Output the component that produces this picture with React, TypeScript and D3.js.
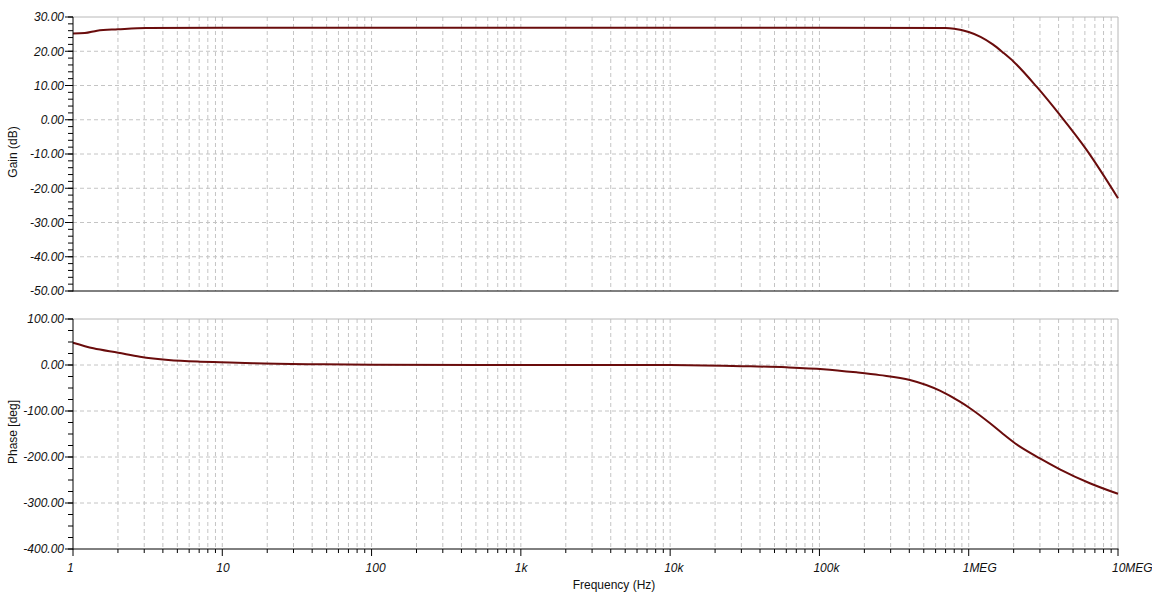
import { useEffect, useRef } from 'react';
import * as d3 from 'd3';

// frequency axis (log, Hz)
const decadeValues = [1, 10, 100, 1e3, 1e4, 1e5, 1e6, 1e7];
const decadeLabels = ['1', '10', '100', '1k', '10k', '100k', '1MEG', '10MEG'];

// gain panel
const gainTicks = [30, 20, 10, 0, -10, -20, -30, -40, -50];
const gainFreq = [1, 1.2, 1.45, 2, 3.1, 10, 1e3, 1e5, 7e5, 8e5, 1e6, 1.2e6, 1.45e6, 1.7e6, 2e6, 2.85e6, 4.08e6, 6.16e6, 1e7];
const gainDb = [25.2, 25.3, 26.0, 26.4, 26.8, 26.85, 26.85, 26.85, 26.8, 26.6, 25.6, 24.2, 22.0, 19.6, 16.95, 9.65, 1.4, -8.8, -22.9];

// phase panel
const phaseTicks = [100, 0, -100, -200, -300, -400];
const phaseFreq = [1, 1.37, 2.01, 2.81, 4.35, 7.1, 9.66, 16.1, 47.5, 100, 1e3, 1e4, 3e4, 6e4, 1.06e5, 1.77e5, 2.54e5, 4.04e5, 6.41e5, 8.73e5, 1.02e6, 1.39e6, 1.7e6, 2.04e6, 3e6, 4.08e6, 6.48e6, 1e7];
const phaseDeg = [48.5, 36.3, 26.7, 18, 10.9, 7.2, 5.9, 3.7, 1.5, 0.5, 0.2, 0, -2.5, -5, -9, -16, -22, -32.6, -55.8, -79.8, -94, -126.7, -150, -170, -203, -226.7, -257, -280];

const W = 1152;
const H = 603;
const FONT = '"Liberation Sans", Arial, sans-serif';

export default function App() {
  const svgRef = useRef<SVGSVGElement>(null);

  useEffect(() => {
    if (!svgRef.current) return;
    const svg = d3.select(svgRef.current);
    svg.selectAll('*').remove();

    const left = 73, right = 1118;
    const x = d3.scaleLog().domain([1, 1e7]).range([left, right]);

    const minorFreqs: number[] = [];
    decadeValues.slice(0, -1).forEach(d => {
      for (let m = 2; m <= 9; m++) minorFreqs.push(d * m);
    });
    const gridFreqs = minorFreqs.concat(decadeValues.slice(1, -1));

    const drawPanel = (
      top: number, bottom: number, ticks: number[], minorSteps: number,
      freqs: number[], values: number[], title: string, bottomAxis: boolean
    ) => {
      const y = d3.scaleLinear()
        .domain([ticks[ticks.length - 1], ticks[0]])
        .range([bottom, top]);
      const g = svg.append('g');

      // grid
      g.selectAll('.vgrid').data(gridFreqs).enter().append('line')
        .attr('x1', d => x(d)).attr('x2', d => x(d))
        .attr('y1', top).attr('y2', bottom)
        .attr('stroke', '#c4c4c4').attr('stroke-dasharray', '4,3');
      g.selectAll('.hgrid').data(ticks.slice(1, -1)).enter().append('line')
        .attr('x1', left).attr('x2', right)
        .attr('y1', d => y(d)).attr('y2', d => y(d))
        .attr('stroke', '#c4c4c4').attr('stroke-dasharray', '4,3');

      // frame: top + right gray, left + bottom black
      g.append('line').attr('x1', left).attr('x2', right).attr('y1', top).attr('y2', top)
        .attr('stroke', '#b8b8b8');
      g.append('line').attr('x1', right).attr('x2', right).attr('y1', top).attr('y2', bottom)
        .attr('stroke', '#b8b8b8');

      // curve
      const pts = freqs.map((f, i) => [f, values[i]] as [number, number]);
      const line = d3.line<[number, number]>()
        .x(d => x(d[0]))
        .y(d => y(d[1]))
        .curve(d3.curveMonotoneX);
      g.append('path').datum(pts)
        .attr('fill', 'none')
        .attr('stroke', '#6a0c0c')
        .attr('stroke-width', 2)
        .attr('d', line);

      g.append('line').attr('x1', left).attr('x2', left).attr('y1', top).attr('y2', bottom + 0.5)
        .attr('stroke', '#000');
      g.append('line').attr('x1', left).attr('x2', right + 0.5).attr('y1', bottom).attr('y2', bottom)
        .attr('stroke', '#000');

      // y ticks
      const step = (ticks[0] - ticks[1]) / minorSteps;
      const minorY = d3.range(ticks[ticks.length - 1], ticks[0] + 0.001, step);
      g.selectAll('.ymin').data(minorY).enter().append('line')
        .attr('x1', left - 5).attr('x2', left)
        .attr('y1', d => y(d)).attr('y2', d => y(d))
        .attr('stroke', '#000');
      g.selectAll('.ymaj').data(ticks).enter().append('line')
        .attr('x1', left - 8).attr('x2', left)
        .attr('y1', d => y(d)).attr('y2', d => y(d))
        .attr('stroke', '#000');
      g.selectAll('.ylab').data(ticks).enter().append('text')
        .attr('x', left - 9)
        .attr('y', d => y(d))
        .attr('dy', '0.36em')
        .attr('text-anchor', 'end')
        .style('font-family', FONT)
        .style('font-style', 'italic')
        .style('font-size', '12px')
        .style('fill', '#111')
        .text(d => d.toFixed(2));

      g.append('text')
        .attr('transform', `translate(17,${(top + bottom) / 2 - 2}) rotate(-90)`)
        .attr('text-anchor', 'middle')
        .style('font-family', FONT)
        .style('font-size', '12px')
        .style('fill', '#111')
        .text(title);

      if (bottomAxis) {
        g.selectAll('.xmin').data(minorFreqs).enter().append('line')
          .attr('x1', d => x(d)).attr('x2', d => x(d))
          .attr('y1', bottom).attr('y2', bottom + 4)
          .attr('stroke', '#000');
        g.selectAll('.xmaj').data(decadeValues).enter().append('line')
          .attr('x1', d => x(d)).attr('x2', d => x(d))
          .attr('y1', bottom).attr('y2', bottom + 7)
          .attr('stroke', '#000');
        g.selectAll('.xlab').data(decadeValues).enter().append('text')
          .attr('x', d => x(d) - 6)
          .attr('y', bottom + 23)
          .style('font-family', FONT)
          .style('font-style', 'italic')
          .style('font-size', '12px')
          .style('fill', '#111')
          .text((d, i) => decadeLabels[i]);
      }
    };

    drawPanel(17, 291, gainTicks, 5, gainFreq, gainDb, 'Gain (dB)', false);
    drawPanel(319, 549, phaseTicks, 4, phaseFreq, phaseDeg, 'Phase [deg]', true);

    svg.append('text')
      .attr('x', 614)
      .attr('y', 589)
      .attr('text-anchor', 'middle')
      .style('font-family', FONT)
      .style('font-size', '12px')
      .style('fill', '#111')
      .text('Frequency (Hz)');
  }, []);

  return (
    <svg
      ref={svgRef}
      width={W}
      height={H}
      style={{ position: 'absolute', left: 0, top: 0, background: '#fff' }}
    />
  );
}
